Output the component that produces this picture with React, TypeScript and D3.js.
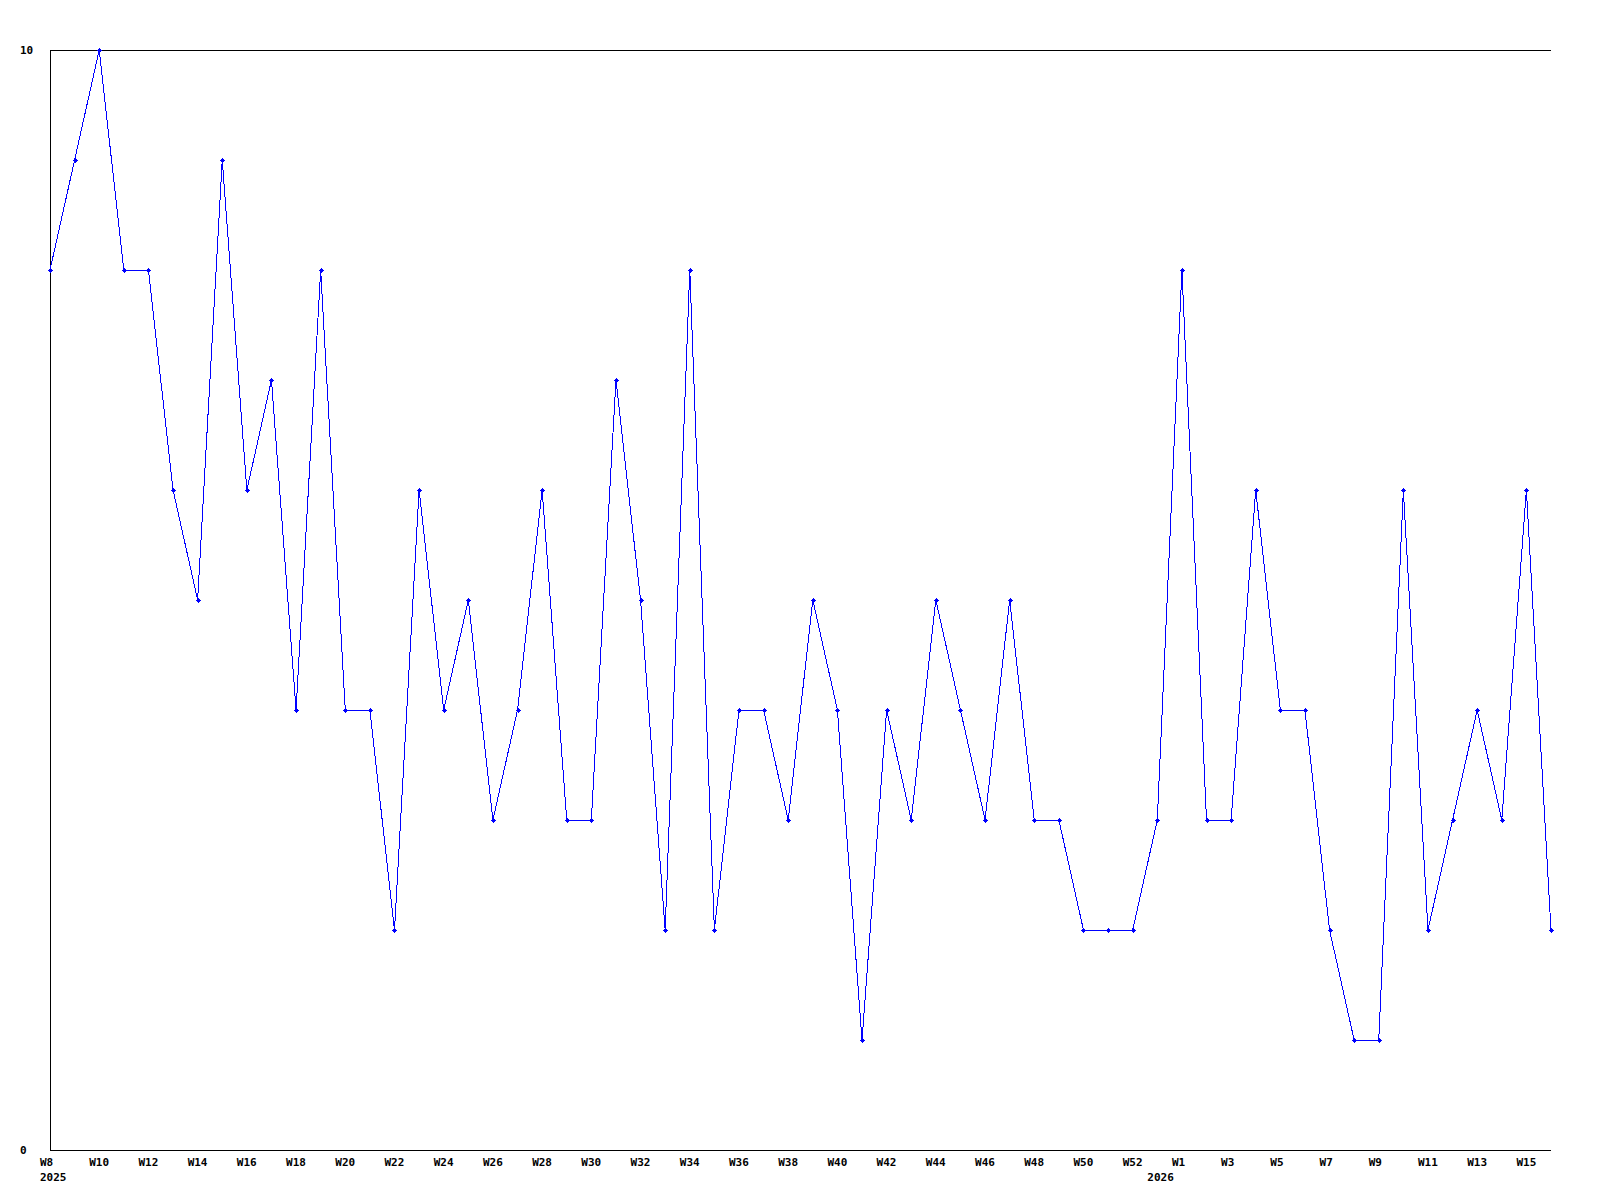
import React from "react";
import * as d3 from "d3";

const weeks2025: string[] = d3.range(8, 53).map((w) => `W${w}`);
const weeks2026: string[] = d3.range(0, 17).map((w) => `W${w}`);
const values2025: number[] = [
  8, 9, 10, 8, 8, 6, 5, 9, 6, 7, 4, 8, 4, 4, 2, 6, 4, 5, 3, 4, 6, 3, 3, 7, 5, 2, 8, 2, 4, 4,
  3, 5, 4, 1, 4, 3, 5, 4, 3, 5, 3, 3, 2, 2, 2,
];
const values2026: number[] = [3, 8, 3, 3, 6, 4, 4, 2, 1, 1, 6, 2, 3, 4, 3, 6, 2];
const yTicks: number[] = [0, 10];

type Pt = { key: string; week: string; year: string; value: number; firstOfYear: boolean };

const points: Pt[] = [
  ...weeks2025.map((w, i) => ({ key: `2025-${w}`, week: w, year: "2025", value: values2025[i], firstOfYear: i === 0 })),
  ...weeks2026.map((w, i) => ({ key: `2026-${w}`, week: w, year: "2026", value: values2026[i], firstOfYear: i === 0 })),
];

const W = 1600;
const H = 1200;
const left = 50;
const right = 1551;
const top = 50;
const bottom = 1150;
const font = "'DejaVu Sans Mono', monospace";

export default function App() {
  const x = d3.scalePoint<string>().domain(points.map((p) => p.key)).range([left, right]);
  const y = d3.scaleLinear().domain([0, 10]).range([bottom, top]);
  const line = d3
    .line<Pt>()
    .x((d) => x(d.key)!)
    .y((d) => y(d.value));

  return (
    <div style={{ position: "absolute", left: 0, top: 0 }}>
      <svg width={W} height={H} style={{ display: "block", background: "#fff" }}>
        <rect x={0} y={0} width={W} height={H} fill="#fff" />
        {/* axes */}
        <g stroke="#000" strokeWidth={1} shapeRendering="crispEdges">
          <line x1={left} x2={left} y1={top} y2={bottom} />
          <line x1={left} x2={right} y1={top} y2={top} />
          <line x1={left} x2={right} y1={bottom} y2={bottom} />
        </g>
        {/* y labels */}
        {yTicks.map((t) => (
          <text key={t} x={20} y={y(t) + 4} fontFamily={font} fontWeight="bold" fontSize={11} fill="#000">
            {t}
          </text>
        ))}
        {/* x labels */}
        {points.map((p, i) =>
          i % 2 === 0 ? (
            <text key={p.key} x={x(p.key)! - 10} y={1166} fontFamily={font} fontWeight="bold" fontSize={11} fill="#000">
              {p.week}
            </text>
          ) : null
        )}
        {points
          .filter((p) => p.firstOfYear)
          .map((p) => (
            <text key={`y-${p.key}`} x={x(p.key)! - 10} y={1181} fontFamily={font} fontWeight="bold" fontSize={11} fill="#000">
              {p.year}
            </text>
          ))}
        {/* series */}
        <path d={line(points) || ""} fill="none" stroke="#0000ff" strokeWidth={1} shapeRendering="crispEdges" />
        <g fill="#0000ff" stroke="#0000ff" shapeRendering="crispEdges">
          {points.map((p) => {
            const cx = Math.round(x(p.key)!);
            const cy = Math.round(y(p.value));
            return (
              <g key={`m-${p.key}`}>
                <rect x={cx - 2} y={cy - 0.5} width={5} height={1} stroke="none" />
                <rect x={cx - 0.5} y={cy - 2} width={1} height={5} stroke="none" />
                <rect x={cx - 1} y={cy - 1} width={3} height={3} stroke="none" />
              </g>
            );
          })}
        </g>
      </svg>
    </div>
  );
}
